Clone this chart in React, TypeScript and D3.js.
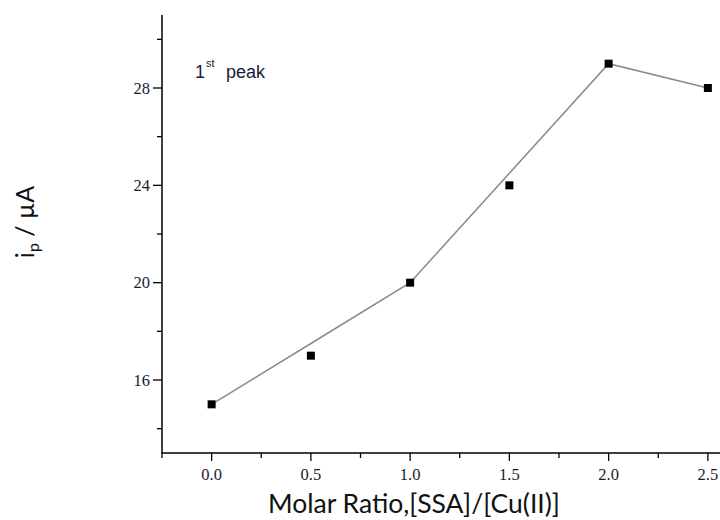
import React from "react";
import * as d3 from "d3";

const ratios = [0, 0.5, 1.0, 1.5, 2.0, 2.5];
const peakCurrent = [15, 17, 20, 24, 29, 28];
const fitLine = [15, 17.5, 20, 24.5, 29, 28];
const xMajorTicks = [0, 0.5, 1.0, 1.5, 2.0, 2.5];
const xMinorTicks = [-0.25, 0.25, 0.75, 1.25, 1.75, 2.25, 2.75];
const yMajorTicks = [16, 20, 24, 28];
const yMinorTicks = [14, 18, 22, 26, 30];

const W = 720;
const H = 520;

export default function App() {
  const x = d3.scaleLinear().domain([-0.25, 2.75]).range([162, 757.5]);
  const y = d3.scaleLinear().domain([13, 31]).range([453, 15]);
  const line = d3
    .line<number>()
    .x((_, i) => x(ratios[i]))
    .y((d) => y(d));
  const x0 = x(-0.25);
  const yb = y(13);
  const serif = "'Liberation Serif', 'DejaVu Serif', serif";
  const sans = "'Liberation Sans', Arial, sans-serif";
  const human = "Lato, 'Open Sans', sans-serif";
  return (
    <svg
      width={W}
      height={H}
      style={{ position: "absolute", left: 0, top: 0, background: "#fff" }}
    >
      <rect x={0} y={0} width={W} height={H} fill="#fff" />
      {/* axes */}
      <line x1={x0} x2={x0} y1={y(31)} y2={yb} stroke="#000" strokeWidth={1.5} />
      <line x1={x0 - 0.75} x2={W} y1={yb} y2={yb} stroke="#000" strokeWidth={1.5} />
      {yMajorTicks.map((t) => (
        <g key={"ym" + t}>
          <line x1={x0 - 9} x2={x0} y1={y(t)} y2={y(t)} stroke="#000" strokeWidth={1.3} />
          <text
            x={x0 - 12}
            y={y(t)}
            dy="0.35em"
            textAnchor="end"
            fontFamily={serif}
            fontSize={16.5}
            fill="#1a1a2e"
          >
            {t}
          </text>
        </g>
      ))}
      {yMinorTicks.map((t) => (
        <line key={"yn" + t} x1={x0 - 5} x2={x0} y1={y(t)} y2={y(t)} stroke="#000" strokeWidth={1.3} />
      ))}
      {xMajorTicks.map((t) => (
        <g key={"xm" + t}>
          <line x1={x(t)} x2={x(t)} y1={yb} y2={yb + 8} stroke="#000" strokeWidth={1.3} />
          <text
            x={x(t)}
            y={yb + 27}
            textAnchor="middle"
            fontFamily={serif}
            fontSize={16.5}
            fill="#1a1a2e"
          >
            {t.toFixed(1)}
          </text>
        </g>
      ))}
      {xMinorTicks.map((t) => (
        <line key={"xn" + t} x1={x(t)} x2={x(t)} y1={yb} y2={yb + 5} stroke="#000" strokeWidth={1.3} />
      ))}
      {/* fit line */}
      <path d={line(fitLine) || ""} fill="none" stroke="#8a8a8a" strokeWidth={1.5} />
      {/* points */}
      {peakCurrent.map((v, i) => (
        <rect key={"p" + i} x={x(ratios[i]) - 4} y={y(v) - 4} width={8} height={8} fill="#000" />
      ))}
      {/* annotation */}
      <text x={195} y={78} fontFamily={sans} fontSize={18} fill="#1a1a3a">
        1
      </text>
      <text x={206} y={67} fontFamily={sans} fontSize={11} fill="#1a1a3a">
        st
      </text>
      <text x={226} y={78} fontFamily={sans} fontSize={18} fill="#1a1a3a">
        peak
      </text>
      {/* axis titles */}
      <text
        x={414}
        y={513}
        textAnchor="middle"
        fontFamily={human}
        fontSize={26.5}
        fill="#111"
      >
        Molar Ratio,[SSA]/[Cu(II)]
      </text>
      <text
        transform="translate(34,222) rotate(-90)"
        textAnchor="middle"
        fontFamily={human}
        fontSize={25}
        fill="#111"
      >
        i
        <tspan fontSize={16} dy={5}>p</tspan>
        <tspan dy={-5}> / µA</tspan>
      </text>
    </svg>
  );
}
